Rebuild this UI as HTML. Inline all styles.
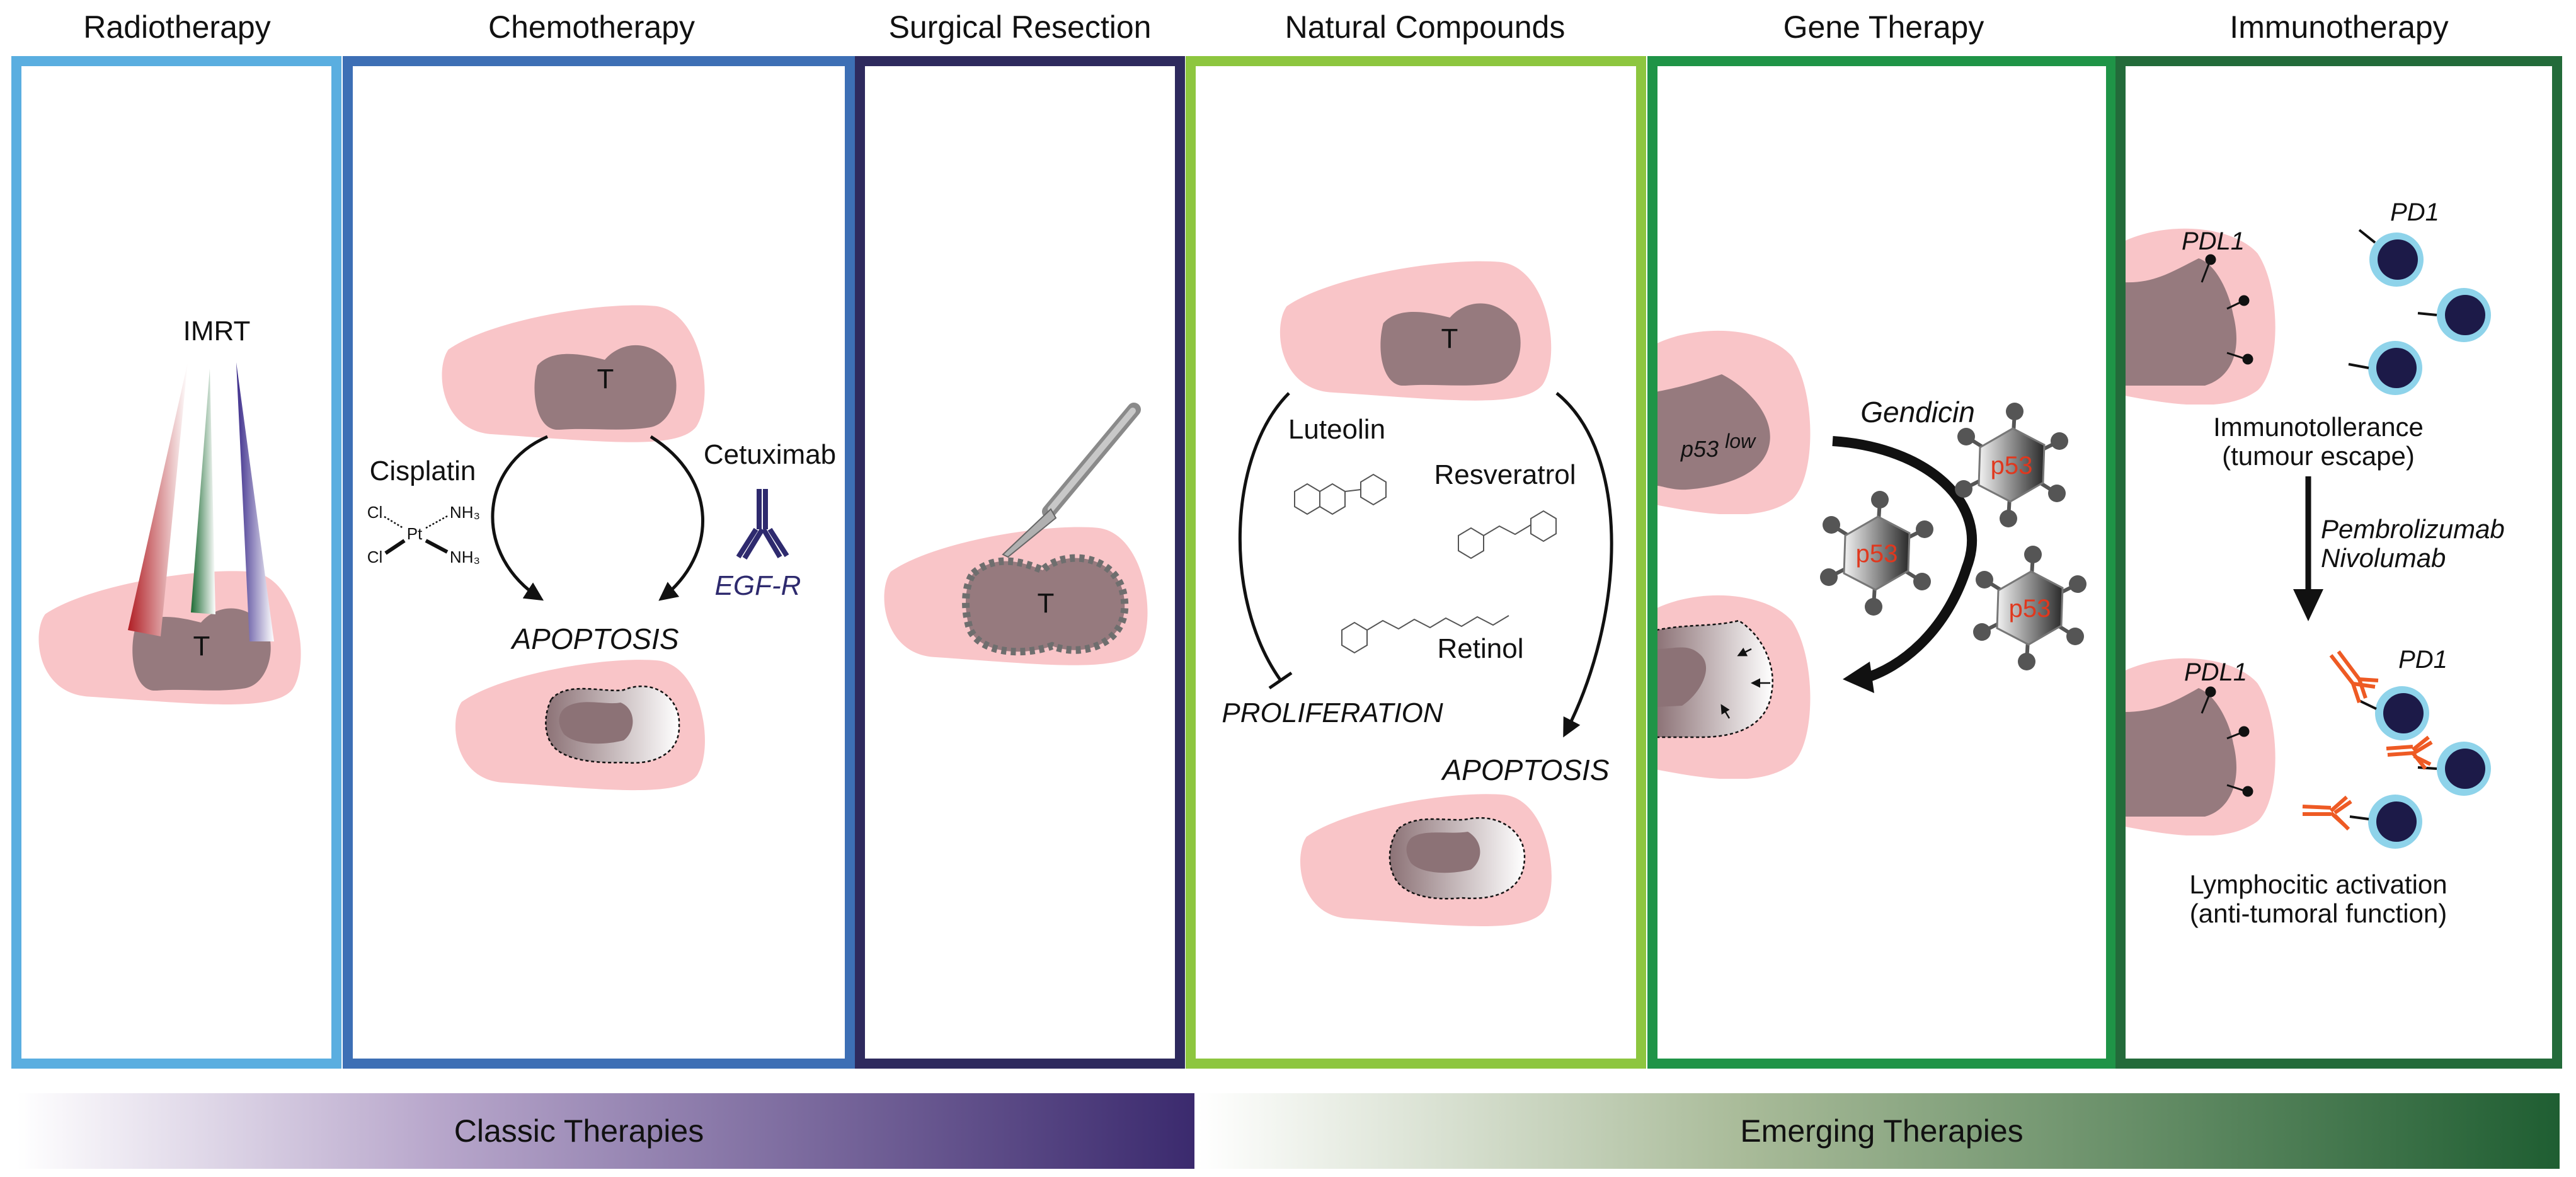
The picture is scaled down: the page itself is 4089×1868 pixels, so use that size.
<!DOCTYPE html>
<html><head><meta charset="utf-8"><style>
html,body{margin:0;padding:0;background:#fff;}
svg{display:block;}
text{font-family:"Liberation Sans",Arial,sans-serif;fill:#111;}
</style></head><body>
<svg width="4089" height="1868" viewBox="0 0 4089 1868" xmlns="http://www.w3.org/2000/svg">
<defs>
<linearGradient id="gClassic" x1="0" x2="1" y1="0" y2="0"><stop offset="0" stop-color="#fff"/><stop offset="0.35" stop-color="#b9a8cc"/><stop offset="1" stop-color="#3b2a6e"/></linearGradient>
<linearGradient id="gEmerg" x1="0" x2="1" y1="0" y2="0"><stop offset="0" stop-color="#fff"/><stop offset="0.4" stop-color="#a9bb99"/><stop offset="1" stop-color="#1f5e32"/></linearGradient>
<linearGradient id="gRed" x1="0" x2="1" y1="0" y2="0"><stop offset="0" stop-color="#b01e24"/><stop offset="1" stop-color="#fff"/></linearGradient>
<linearGradient id="gGreen" x1="0" x2="1" y1="0" y2="0"><stop offset="0" stop-color="#1e6b34"/><stop offset="1" stop-color="#fff"/></linearGradient>
<linearGradient id="gBlue" x1="0" x2="1" y1="0" y2="0"><stop offset="0" stop-color="#3a2a8a"/><stop offset="1" stop-color="#fff"/></linearGradient>
<linearGradient id="gDie" x1="0" x2="1" y1="0" y2="0"><stop offset="0" stop-color="#8c7276"/><stop offset="1" stop-color="#fff"/></linearGradient>
<linearGradient id="gHex" x1="0" x2="1" y1="0" y2="0"><stop offset="0" stop-color="#f2f2f2"/><stop offset="1" stop-color="#2a2a2a"/></linearGradient>
<marker id="ah" viewBox="0 0 10 10" refX="8" refY="5" markerWidth="6" markerHeight="6" orient="auto"><path d="M0 0L10 5L0 10z" fill="#111"/></marker>
<symbol id="blob" viewBox="0 0 100 60" preserveAspectRatio="none"><path d="M5 20 C20 8,60 0,80 2 C97 4,102 40,95 52 C88 62,60 58,20 55 C2 53,0 28,5 20Z" fill="#f9c5c8"/></symbol>
<symbol id="tum" viewBox="0 0 100 80" preserveAspectRatio="none"><path d="M5 25 C15 10,35 15,50 20 C60 5,80 0,95 25 C102 45,95 75,80 78 C60 82,40 78,20 80 C5 82,0 50,5 25Z" fill="#967a7e"/></symbol>
<symbol id="edge" viewBox="0 0 100 100" preserveAspectRatio="none"><path d="M0 8 C30 -4,70 0,85 15 C100 35,100 80,85 92 C65 105,30 100,0 95 Z" fill="#f9c5c8"/></symbol>
<symbol id="etum" viewBox="0 0 100 100" preserveAspectRatio="none"><path d="M0 15 C25 10,40 5,55 0 C75 10,100 35,95 60 C90 85,60 95,30 98 C15 100,5 95,0 95Z" fill="#967a7e"/></symbol>
<g id="hex">
<g stroke="#555" stroke-width="6"><line x1="0" y1="0" x2="5" y2="-85"/><line x1="0" y1="0" x2="76" y2="-38"/><line x1="0" y1="0" x2="72" y2="45"/><line x1="0" y1="0" x2="-5" y2="85"/><line x1="0" y1="0" x2="-76" y2="38"/><line x1="0" y1="0" x2="-72" y2="-45"/></g>
<g fill="#555"><circle cx="5" cy="-85" r="14"/><circle cx="76" cy="-38" r="14"/><circle cx="72" cy="45" r="14"/><circle cx="-5" cy="85" r="14"/><circle cx="-76" cy="38" r="14"/><circle cx="-72" cy="-45" r="14"/></g>
<polygon points="2,-58 52,-32 50,28 -2,58 -52,32 -50,-28" fill="url(#gHex)" stroke="#777" stroke-width="3"/>
<text x="0" y="14" font-size="40" text-anchor="middle" style="fill:#e0381e">p53</text>
</g>
</defs>

<!-- titles -->
<g font-size="50" text-anchor="middle">
<text x="281" y="60">Radiotherapy</text>
<text x="939" y="60">Chemotherapy</text>
<text x="1619" y="60">Surgical Resection</text>
<text x="2262" y="60">Natural Compounds</text>
<text x="2990" y="60">Gene Therapy</text>
<text x="3713" y="60">Immunotherapy</text>
</g>

<!-- bars -->
<rect x="27" y="1735" width="1869" height="120" fill="url(#gClassic)"/>
<rect x="1902" y="1735" width="2161" height="120" fill="url(#gEmerg)"/>
<text x="919" y="1812" font-size="50" text-anchor="middle">Classic Therapies</text>
<text x="2987" y="1812" font-size="50" text-anchor="middle">Emerging Therapies</text>

<!-- Radiotherapy -->
<use href="#blob" x="50" y="900" width="436" height="224"/>
<use href="#tum" x="203" y="952" width="232" height="144"/>
<polygon points="298,575 203,1000 255,1010" fill="url(#gRed)"/>
<polygon points="333,585 303,972 342,975" fill="url(#gGreen)"/>
<polygon points="375,575 396,1018 435,1018" fill="url(#gBlue)"/>
<text x="320" y="1040" font-size="44" text-anchor="middle">T</text>
<text x="344" y="540" font-size="44" text-anchor="middle">IMRT</text>

<!-- Chemotherapy -->
<use href="#blob" x="690" y="478" width="437" height="230"/>
<use href="#tum" x="841" y="534" width="238" height="148"/>
<text x="961" y="616" font-size="44" text-anchor="middle">T</text>
<text x="671" y="762" font-size="44" text-anchor="middle">Cisplatin</text>
<g font-size="26" text-anchor="middle">
<text x="595" y="822">Cl</text><text x="738" y="822">NH₃</text>
<text x="658" y="856">Pt</text>
<text x="595" y="893">Cl</text><text x="738" y="893">NH₃</text>
</g>
<g stroke="#111" stroke-width="2.5"><line x1="610" y1="820" x2="640" y2="838" stroke-dasharray="3 3"/><line x1="676" y1="838" x2="712" y2="818" stroke-dasharray="3 3"/><line x1="612" y1="878" x2="642" y2="858" stroke-width="6"/><line x1="676" y1="858" x2="710" y2="876" stroke-width="6"/></g>
<text x="1222" y="736" font-size="44" text-anchor="middle">Cetuximab</text>
<g stroke="#2e2a6e" stroke-width="8" fill="none"><line x1="1205" y1="776" x2="1205" y2="840"/><line x1="1215" y1="776" x2="1215" y2="840"/><line x1="1200" y1="840" x2="1172" y2="884"/><line x1="1210" y1="840" x2="1182" y2="886"/><line x1="1212" y1="840" x2="1238" y2="884"/><line x1="1222" y1="840" x2="1249" y2="882"/></g>
<text x="1203" y="944" font-size="44" font-style="italic" text-anchor="middle" style="fill:#2e2a6e">EGF-R</text>
<path d="M869 693 C760 740,750 880,858 950" fill="none" stroke="#111" stroke-width="5" marker-end="url(#ah)"/>
<path d="M1033 693 C1140 760,1140 880,1050 950" fill="none" stroke="#111" stroke-width="5" marker-end="url(#ah)"/>
<text x="945" y="1030" font-size="46" font-style="italic" text-anchor="middle">APOPTOSIS</text>
<use href="#blob" x="712" y="1041" width="415" height="219"/>
<path d="M875 1110 C900 1080,960 1100,990 1095 C1040 1075,1080 1110,1078 1150 C1080 1195,1040 1215,990 1210 C940 1212,890 1205,875 1180 C862 1160,865 1130,875 1110Z" fill="url(#gDie)" stroke="#111" stroke-width="2.5" stroke-dasharray="5 4"/>
<path d="M895 1125 C920 1105,960 1120,985 1115 C1010 1125,1010 1160,990 1175 C950 1185,910 1180,895 1165 C885 1150,885 1135,895 1125Z" fill="#8c7276"/>

<!-- Surgical -->
<use href="#blob" x="1392" y="830" width="438" height="232"/>
<path d="M1545 910 C1580 880,1620 890,1655 905 C1690 870,1780 880,1785 955 C1790 1020,1720 1045,1670 1025 C1630 1040,1560 1040,1540 1000 C1530 970,1530 930,1545 910Z" fill="#967a7e" stroke="#6e6e6e" stroke-width="12" stroke-dasharray="8 7"/>
<text x="1660" y="972" font-size="44" text-anchor="middle">T</text>
<line x1="1800" y1="650" x2="1665" y2="812" stroke="#8a8a8a" stroke-width="22" stroke-linecap="round"/>
<line x1="1798" y1="652" x2="1668" y2="808" stroke="#c8c8c8" stroke-width="10" stroke-linecap="round"/>
<path d="M1668 808 L1592 880 L1600 884 L1676 822Z" fill="#b0b0b0" stroke="#666" stroke-width="2"/>

<!-- Natural compounds -->
<use href="#blob" x="2020" y="408" width="451" height="234"/>
<use href="#tum" x="2184" y="468" width="235" height="144"/>
<text x="2301" y="552" font-size="44" text-anchor="middle">T</text>
<text x="2122" y="696" font-size="44" text-anchor="middle">Luteolin</text>
<text x="2389" y="768" font-size="44" text-anchor="middle">Resveratrol</text>
<text x="2350" y="1044" font-size="44" text-anchor="middle">Retinol</text>
<g fill="none" stroke="#555" stroke-width="2">
<polygon points="2055,780 2075,768 2095,780 2095,804 2075,816 2055,804"/><polygon points="2095,780 2115,768 2135,780 2135,804 2115,816 2095,804"/><polygon points="2160,765 2180,753 2200,765 2200,789 2180,801 2160,789"/><line x1="2135" y1="780" x2="2160" y2="777"/>
<polygon points="2315,850 2335,838 2355,850 2355,874 2335,886 2315,874"/><polyline points="2355,850 2380,835 2405,848 2430,833"/><polygon points="2430,823 2450,811 2470,823 2470,847 2450,859 2430,847"/>
<polygon points="2130,1000 2150,988 2170,1000 2170,1024 2150,1036 2130,1024"/><polyline points="2170,1000 2195,985 2220,998 2245,983 2270,996 2295,981 2320,994 2345,979 2370,992 2395,977"/>
</g>
<text x="2115" y="1146" font-size="44" font-style="italic" text-anchor="middle">PROLIFERATION</text>
<path d="M2046 624 C1950 720,1940 950,2033 1080" fill="none" stroke="#111" stroke-width="5"/>
<line x1="2015" y1="1092" x2="2050" y2="1068" stroke="#111" stroke-width="5"/>
<path d="M2471 624 C2590 720,2580 980,2484 1165" fill="none" stroke="#111" stroke-width="5" marker-end="url(#ah)"/>
<text x="2422" y="1238" font-size="46" font-style="italic" text-anchor="middle">APOPTOSIS</text>
<use href="#blob" x="2053" y="1254" width="418" height="222"/>
<path d="M2220 1315 C2250 1290,2300 1305,2330 1300 C2380 1290,2420 1320,2420 1360 C2420 1410,2380 1430,2320 1425 C2270 1430,2230 1420,2215 1395 C2200 1370,2205 1335,2220 1315Z" fill="url(#gDie)" stroke="#111" stroke-width="2.5" stroke-dasharray="5 4"/>
<path d="M2240 1330 C2260 1315,2300 1325,2330 1320 C2355 1335,2355 1365,2335 1380 C2295 1390,2255 1385,2240 1370 C2230 1355,2230 1340,2240 1330Z" fill="#8c7276"/>

<!-- Gene therapy -->
<use href="#edge" x="2629" y="522" width="254" height="294"/>
<use href="#etum" x="2629" y="594" width="189" height="186"/>
<text x="2668" y="725" font-size="36" font-style="italic">p53 <tspan dy="-14" font-size="32">low</tspan></text>
<use href="#edge" x="2629" y="942" width="254" height="294"/>
<path d="M2629 1000 C2680 990,2720 995,2760 985 C2800 1010,2820 1060,2812 1100 C2805 1150,2760 1170,2700 1170 L2629 1170Z" fill="url(#gDie)" stroke="#111" stroke-width="2.5" stroke-dasharray="5 4"/>
<path d="M2629 1030 C2660 1030,2680 1020,2700 1040 C2720 1060,2700 1100,2670 1120 L2629 1122Z" fill="#8c7276"/>
<g stroke="#111" stroke-width="2.5"><line x1="2780" y1="1030" x2="2760" y2="1040" marker-end="url(#ah)"/><line x1="2810" y1="1084" x2="2782" y2="1084" marker-end="url(#ah)"/><line x1="2745" y1="1140" x2="2733" y2="1120" marker-end="url(#ah)"/></g>
<text x="3044" y="670" font-size="46" font-style="italic" text-anchor="middle">Gendicin</text>
<path d="M2909 700 C3060 710,3160 800,3122 900 C3090 1000,3020 1060,2955 1078" fill="none" stroke="#111" stroke-width="16"/>
<polygon points="2925,1078 2968,1050 2975,1100" fill="#111"/>
<use href="#hex" transform="translate(3193,738)"/>
<use href="#hex" transform="translate(2979,878)"/>
<use href="#hex" transform="translate(3222,965)"/>

<!-- Immunotherapy -->
<use href="#edge" x="3372" y="360" width="249" height="282"/>
<path d="M3372 448 C3420 450,3450 430,3490 410 C3520 420,3540 470,3545 500 C3560 560,3540 600,3500 612 L3372 612Z" fill="#967a7e"/>
<use href="#edge" x="3372" y="1042" width="249" height="284"/>
<path d="M3372 1130 C3420 1130,3450 1115,3490 1092 C3520 1105,3540 1150,3545 1180 C3560 1240,3540 1285,3500 1296 L3372 1296Z" fill="#967a7e"/>
<g stroke="#111" stroke-width="3" fill="#111">
<line x1="3495" y1="448" x2="3508" y2="414"/><circle cx="3509" cy="412" r="7"/>
<line x1="3535" y1="490" x2="3560" y2="478"/><circle cx="3562" cy="477" r="7"/>
<line x1="3535" y1="560" x2="3566" y2="570"/><circle cx="3568" cy="570" r="7"/>
<line x1="3495" y1="1132" x2="3508" y2="1100"/><circle cx="3509" cy="1098" r="7"/>
<line x1="3535" y1="1172" x2="3560" y2="1162"/><circle cx="3562" cy="1161" r="7"/>
<line x1="3535" y1="1246" x2="3566" y2="1256"/><circle cx="3568" cy="1256" r="7"/>
</g>
<g font-size="40" font-style="italic" text-anchor="middle">
<text x="3513" y="396">PDL1</text><text x="3833" y="350">PD1</text>
<text x="3517" y="1080">PDL1</text><text x="3846" y="1060">PD1</text>
</g>
<g>
<circle cx="3804" cy="412" r="43" fill="#8ed3ea"/><circle cx="3806" cy="412" r="32" fill="#1c1a48"/>
<circle cx="3911" cy="500" r="43" fill="#8ed3ea"/><circle cx="3913" cy="500" r="32" fill="#1c1a48"/>
<circle cx="3802" cy="584" r="43" fill="#8ed3ea"/><circle cx="3804" cy="584" r="32" fill="#1c1a48"/>
<circle cx="3813" cy="1132" r="43" fill="#8ed3ea"/><circle cx="3815" cy="1132" r="32" fill="#1c1a48"/>
<circle cx="3911" cy="1220" r="43" fill="#8ed3ea"/><circle cx="3913" cy="1220" r="32" fill="#1c1a48"/>
<circle cx="3802" cy="1304" r="43" fill="#8ed3ea"/><circle cx="3804" cy="1304" r="32" fill="#1c1a48"/>
</g>
<g stroke="#111" stroke-width="4">
<line x1="3770" y1="385" x2="3745" y2="365"/><line x1="3868" y1="500" x2="3838" y2="497"/><line x1="3760" y1="584" x2="3728" y2="578"/>
<line x1="3772" y1="1125" x2="3745" y2="1112"/><line x1="3868" y1="1220" x2="3838" y2="1218"/><line x1="3760" y1="1300" x2="3730" y2="1296"/>
</g>
<g stroke="#ee5a24" stroke-width="6" fill="none">
<path d="M3700 1040 L3735 1085 M3712 1034 L3745 1078 M3735 1085 L3770 1090 M3745 1078 L3775 1080 M3735 1085 L3745 1115 M3745 1078 L3755 1108"/>
<path d="M3788 1188 L3830 1185 M3790 1198 L3832 1195 M3830 1190 L3855 1170 M3832 1195 L3860 1178 M3830 1195 L3850 1220 M3832 1200 L3858 1213"/>
<path d="M3655 1280 L3700 1282 M3655 1292 L3700 1292 M3700 1287 L3725 1265 M3706 1290 L3732 1272 M3700 1290 L3722 1310 M3706 1294 L3728 1316"/>
</g>
<text x="3680" y="692" font-size="42" text-anchor="middle">Immunotollerance</text>
<text x="3680" y="738" font-size="42" text-anchor="middle">(tumour escape)</text>
<line x1="3664" y1="756" x2="3664" y2="940" stroke="#111" stroke-width="9"/>
<polygon points="3640,935 3688,935 3664,986" fill="#111"/>
<text x="3684" y="854" font-size="42" font-style="italic">Pembrolizumab</text>
<text x="3684" y="900" font-size="42" font-style="italic">Nivolumab</text>
<text x="3680" y="1418" font-size="42" text-anchor="middle">Lymphocitic activation</text>
<text x="3680" y="1464" font-size="42" text-anchor="middle">(anti-tumoral function)</text>

<!-- panel borders -->
<g fill="none" stroke-width="16">
<rect x="26" y="97" width="508" height="1591" stroke="#5aaee0"/>
<rect x="552" y="97" width="797" height="1591" stroke="#3d6fb5"/>
<rect x="1365" y="97" width="508" height="1591" stroke="#2e2a5e"/>
<rect x="1890" y="97" width="715" height="1591" stroke="#8dc63f"/>
<rect x="2623" y="97" width="728" height="1591" stroke="#1f9447"/>
<rect x="3366" y="97" width="693" height="1591" stroke="#236b3a"/>
</g>
</svg>
</body></html>
